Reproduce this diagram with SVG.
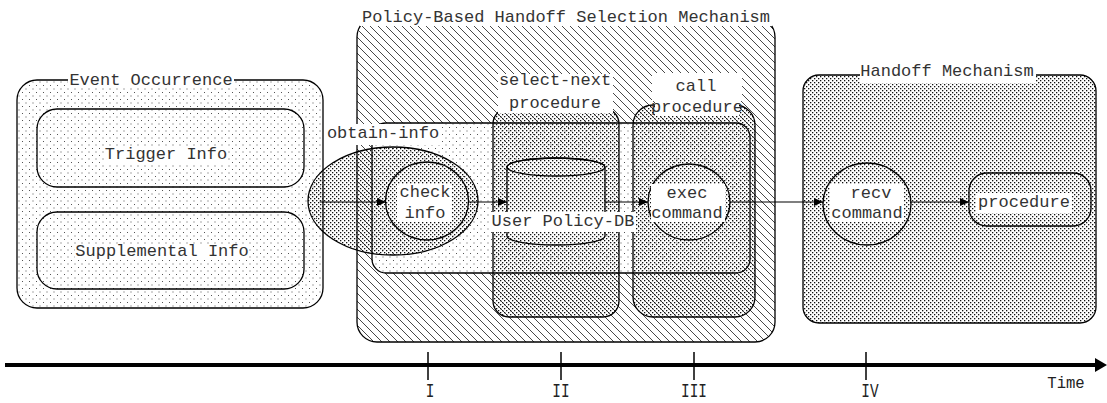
<svg xmlns="http://www.w3.org/2000/svg" width="1107" height="403" viewBox="0 0 1107 403">
<style>
.ln{stroke:#000;stroke-width:1.3}
.t{font-family:"Liberation Mono","Courier New",monospace;font-size:17px;fill:#333;text-anchor:middle}
.tl{font-family:"Liberation Mono","Courier New",monospace;font-size:20px;fill:#222;text-anchor:middle}
.bg{fill:#fff}
.c{stroke:#000;stroke-width:1.2;fill:none}
</style>
<defs>
<pattern id="sparseW" width="7" height="7" patternUnits="userSpaceOnUse">
<rect width="7" height="7" fill="#fff"/>
<rect x="1" y="1" width="1" height="1" fill="#555"/>
<rect x="4.5" y="4.5" width="1" height="1" fill="#555"/>
</pattern>
<pattern id="dense" width="4" height="4" patternUnits="userSpaceOnUse">
<rect x="0" y="0" width="1.3" height="1.3" fill="#111"/>
<rect x="2" y="2" width="1.3" height="1.3" fill="#111"/>
</pattern>
<pattern id="denseW" width="4" height="4" patternUnits="userSpaceOnUse">
<rect width="4" height="4" fill="#fff"/>
<rect x="0" y="0" width="1.3" height="1.3" fill="#111"/>
<rect x="2" y="2" width="1.3" height="1.3" fill="#111"/>
</pattern>
<pattern id="hatchW" width="8" height="8" patternUnits="userSpaceOnUse">
<rect width="8" height="8" fill="#fff"/>
<path d="M0,0 L8,8 M-1,7 L1,9 M7,-1 L9,1" stroke="#333" stroke-width="0.9"/>
</pattern>
<marker id="ah" markerWidth="9" markerHeight="8" refX="9" refY="4" orient="auto" markerUnits="userSpaceOnUse">
<path d="M0,0 L9,4 L0,8 Z" fill="#000"/>
</marker>
</defs>

<g id="event-occurrence">
<rect x="17" y="80" width="306" height="228" rx="20" fill="url(#sparseW)" class="ln"/>
<rect x="68" y="72" width="166" height="16" class="bg"/>
<text x="151" y="85" class="t">Event Occurrence</text>
</g>
<g id="trigger-info">
<rect x="37" y="109" width="267" height="78" rx="20" fill="none" class="ln"/>
<rect x="104" y="147" width="124" height="16" class="bg"/>
<text x="166" y="159" class="t">Trigger Info</text>
</g>
<g id="supplemental-info">
<rect x="37" y="212" width="267" height="77" rx="20" fill="none" class="ln"/>
<rect x="75" y="244" width="174" height="16" class="bg"/>
<text x="162" y="256" class="t">Supplemental Info</text>
</g>

<g id="policy-mechanism">
<rect x="357" y="17" width="418" height="325" rx="20" fill="url(#hatchW)" class="ln"/>
<rect x="360" y="7" width="412" height="19" class="bg"/>
<text x="566" y="22" class="t">Policy-Based Handoff Selection Mechanism</text>
</g>
<g id="obtain-info">
<rect x="372" y="123" width="378" height="150" rx="14" fill="url(#sparseW)" class="ln"/>
</g>
<g id="select-next">
<rect x="493" y="108" width="126" height="209" rx="16" fill="url(#dense)" class="ln"/>
<rect x="498" y="74" width="115" height="39" class="bg"/>
<text x="555" y="85" class="t">select-next</text>
<text x="555" y="108" class="t">procedure</text>
</g>
<g id="call-procedure">
<rect x="633" y="105" width="122" height="212" rx="20" fill="url(#dense)" class="ln"/>
<rect x="652" y="73" width="90" height="28" class="bg"/>
<rect x="655" y="101" width="84" height="15" class="bg"/>
<text x="696" y="91" class="t">call</text>
<text x="697" y="112" class="t">procedure</text>
</g>
<g id="obtain-ellipse">
<ellipse cx="393" cy="201" rx="85" ry="54" fill="url(#dense)" class="ln"/>
<rect x="326" y="124" width="114" height="21" class="bg"/>
<text x="383" y="138" class="t">obtain-info</text>
</g>
<g id="check-info">
<ellipse cx="427" cy="201" rx="41.5" ry="39" fill="url(#denseW)" class="ln"/>
<rect x="397" y="184" width="55" height="38" class="bg"/>
<text x="425" y="197" class="t">check</text>
<text x="425" y="218" class="t">info</text>
</g>
<g id="user-policy-db">
<path d="M507,167 L507,236 A49,9 0 0 0 605,236 L605,167 A49,9 0 0 0 507,167 Z" fill="url(#denseW)" class="ln"/>
<ellipse cx="556" cy="167" rx="49" ry="9" fill="none" class="ln"/>
<rect x="490" y="212" width="146" height="20" class="bg"/>
<text x="563" y="226" class="t">User Policy-DB</text>
</g>
<g id="exec-command">
<ellipse cx="689" cy="202" rx="41" ry="38" fill="url(#denseW)" class="ln"/>
<rect x="651" y="184" width="74" height="38" class="bg"/>
<text x="687" y="198" class="t">exec</text>
<text x="687" y="218" class="t">command</text>
</g>

<g id="handoff-mechanism">
<rect x="803" y="75" width="293" height="248" rx="16" fill="url(#denseW)" class="ln"/>
<rect x="860" y="66" width="176" height="17" class="bg"/>
<text x="947" y="76" class="t">Handoff Mechanism</text>
</g>
<g id="recv-command">
<ellipse cx="867" cy="204" rx="44" ry="41" fill="url(#denseW)" class="ln"/>
<rect x="830" y="184" width="74" height="38" class="bg"/>
<text x="871" y="198" class="t">recv</text>
<text x="867" y="218" class="t">command</text>
</g>
<g id="procedure">
<rect x="969" y="173" width="122" height="53" rx="18" fill="url(#denseW)" class="ln"/>
<rect x="976" y="193" width="96" height="20" class="bg"/>
<text x="1024" y="207" class="t">procedure</text>
</g>

<g id="connectors">
<line x1="320" y1="202" x2="386" y2="202" class="c" marker-end="url(#ah)"/>
<line x1="469" y1="202" x2="507" y2="202" class="c" marker-end="url(#ah)"/>
<line x1="605" y1="202" x2="648" y2="202" class="c" marker-end="url(#ah)"/>
<line x1="730" y1="202" x2="823" y2="202" class="c" marker-end="url(#ah)"/>
<line x1="911" y1="202" x2="969" y2="202" class="c" marker-end="url(#ah)"/>
</g>

<g id="timeline">
<line x1="5" y1="365" x2="1097" y2="365" stroke="#000" stroke-width="4"/>
<path d="M1095,358 L1107,365 L1095,372 Z" fill="#000"/>
<line x1="428" y1="352" x2="428" y2="380" stroke="#000" stroke-width="1.5"/>
<line x1="561" y1="352" x2="561" y2="380" stroke="#000" stroke-width="1.5"/>
<line x1="694" y1="352" x2="694" y2="380" stroke="#000" stroke-width="1.5"/>
<line x1="866" y1="352" x2="866" y2="380" stroke="#000" stroke-width="1.5"/>
<text class="tl" transform="translate(430,397) scale(0.72,1)">I</text>
<text class="tl" transform="translate(561,397) scale(0.72,1)">II</text>
<text class="tl" transform="translate(694,397) scale(0.72,1)">III</text>
<text class="tl" transform="translate(870,397) scale(0.72,1)">IV</text>
<text class="tl" transform="translate(1066,388) scale(0.78,0.8)">Time</text>
</g>
</svg>
